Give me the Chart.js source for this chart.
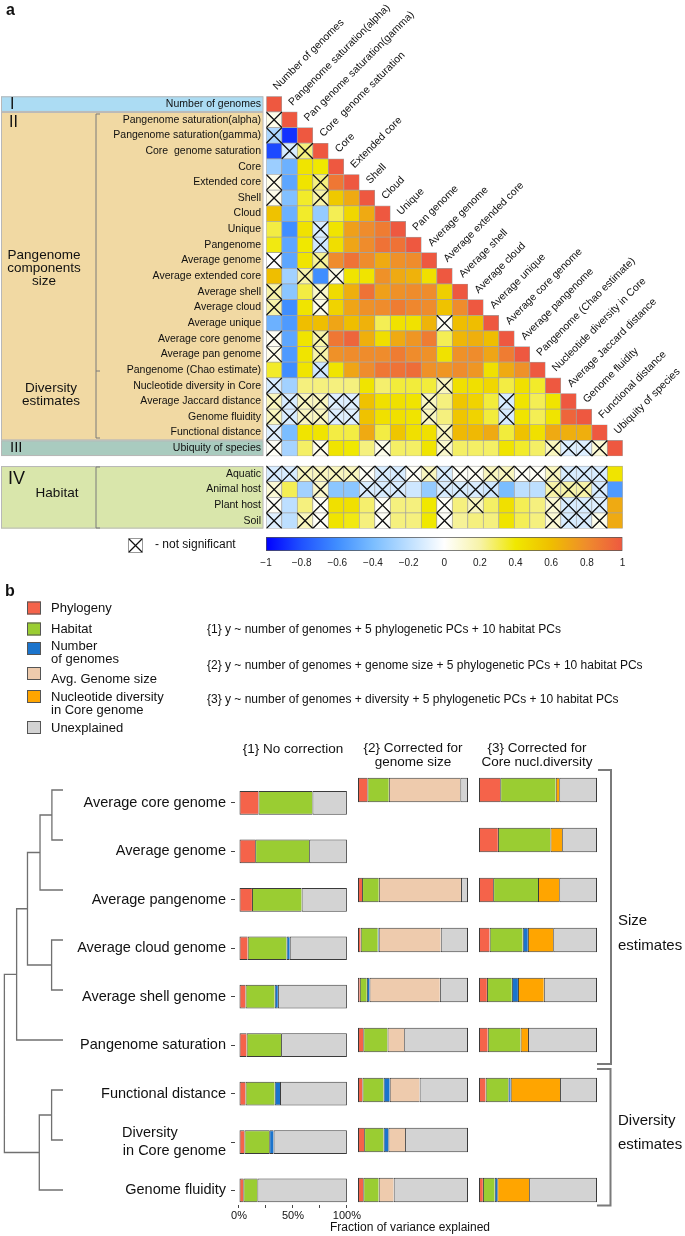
<!DOCTYPE html>
<html>
<head>
<meta charset="utf-8">
<script src="https://cdn.jsdelivr.net/npm/chart.js@4/dist/chart.umd.min.js"></script>
<style>
  html, body { margin: 0; background: #fff; }
  #page { position: relative; width: 685px; height: 1236px; overflow: hidden; }
  #page canvas { position: absolute; }
</style>
</head>
<body>
<div id="page">
  <canvas id="heat" width="685" height="1236" style="left:0;top:0"></canvas>
  <canvas id="cbar" width="390" height="35" style="left:250px;top:537px"></canvas>
  <canvas id="dendro" width="70" height="440" style="left:0;top:765px"></canvas>
  <canvas id="col1" width="362" height="466" style="left:0;top:765px"></canvas>
  <canvas id="col2" width="110" height="440" style="left:358px;top:765px"></canvas>
  <canvas id="col3" width="118" height="440" style="left:479px;top:765px"></canvas>
</div>
<script>
Chart.defaults.font.family = '"Liberation Sans", Arial, Helvetica, sans-serif';
Chart.defaults.color = '#111';
Chart.defaults.animation = false;
Chart.defaults.responsive = false;
Chart.defaults.events = [];
Chart.defaults.plugins.legend.display = false;
Chart.defaults.plugins.tooltip.enabled = false;

// ---------- panel a data ----------
var rowLabels = ['Number of genomes', 'Pangenome saturation(alpha)', 'Pangenome saturation(gamma)',
  'Core  genome saturation', 'Core', 'Extended core', 'Shell', 'Cloud', 'Unique', 'Pangenome',
  'Average genome', 'Average extended core', 'Average shell', 'Average cloud', 'Average unique',
  'Average core genome', 'Average pan genome', 'Pangenome (Chao estimate)', 'Nucleotide diversity in Core',
  'Average Jaccard distance', 'Genome fluidity', 'Functional distance', 'Ubiquity of species'];
var colLabels = ['Number of genomes', 'Pangenome saturation(alpha)', 'Pan genome saturation(gamma)',
  'Core  genome saturation', 'Core', 'Extended core', 'Shell', 'Cloud', 'Unique', 'Pan genome',
  'Average genome', 'Average extended core', 'Average shell', 'Average cloud', 'Average unique',
  'Average core genome', 'Average pangenome', 'Pangenome (Chao estimate)', 'Nucleotide diversity in Core',
  'Average Jaccard distance', 'Genome fluidity', 'Functional distance', 'Ubiquity of species'];
var habitatLabels = ['Aquatic', 'Animal host', 'Plant host', 'Soil'];

// lower triangle of the correlation matrix, row by row
var corr = [
  [1],
  [0.05, 1],
  [-0.25, -0.88, 1],
  [-0.82, -0.12, 0.25, 1],
  [-0.3, -0.45, 0.42, 0.4, 1],
  [0.05, -0.5, 0.42, 0.25, 0.88, 1],
  [0.05, -0.38, 0.35, 0.2, 0.55, 0.68, 1],
  [0.58, -0.45, 0.35, -0.32, 0.3, 0.48, 0.68, 1],
  [0.32, -0.6, 0.43, -0.12, 0.42, 0.72, 0.8, 0.86, 1],
  [0.38, -0.5, 0.4, -0.15, 0.45, 0.7, 0.8, 0.9, 0.9, 1],
  [0.0, -0.5, 0.42, 0.22, 0.8, 0.9, 0.8, 0.68, 0.78, 0.8, 1],
  [0.6, -0.28, 0.2, -0.6, 0.05, 0.42, 0.42, 0.78, 0.68, 0.65, 0.44, 1],
  [0.2, -0.35, 0.32, 0.12, 0.46, 0.66, 0.9, 0.72, 0.78, 0.8, 0.8, 0.52, 1],
  [0.2, -0.6, 0.42, 0.05, 0.5, 0.7, 0.78, 0.8, 0.86, 0.82, 0.8, 0.58, 0.8, 1],
  [-0.45, -0.55, 0.6, 0.6, 0.7, 0.6, 0.65, 0.3, 0.43, 0.43, 0.64, 0.03, 0.6, 0.6, 1],
  [0.03, -0.5, 0.42, 0.2, 0.88, 0.95, 0.66, 0.45, 0.68, 0.76, 0.86, 0.3, 0.63, 0.66, 0.6, 1],
  [0.05, -0.55, 0.42, 0.2, 0.78, 0.8, 0.8, 0.8, 0.86, 0.8, 0.78, 0.43, 0.78, 0.8, 0.7, 0.86, 1],
  [0.35, -0.6, 0.42, -0.15, 0.42, 0.7, 0.8, 0.88, 0.9, 0.92, 0.78, 0.76, 0.8, 0.76, 0.44, 0.68, 0.78, 1],
  [-0.12, -0.28, 0.25, 0.25, 0.25, 0.25, 0.42, 0.27, 0.33, 0.33, 0.33, 0.15, 0.44, 0.44, 0.48, 0.32, 0.44, 0.35, 1],
  [0.15, -0.12, 0.15, 0.15, -0.1, -0.1, 0.58, 0.44, 0.44, 0.42, 0.15, 0.25, 0.56, 0.5, 0.33, -0.12, 0.42, 0.3, 0.42, 1],
  [0.15, -0.12, 0.15, 0.15, -0.1, -0.1, 0.58, 0.44, 0.44, 0.42, 0.15, 0.25, 0.56, 0.5, 0.33, -0.12, 0.42, 0.3, 0.42, 0.95, 1],
  [-0.1, -0.4, 0.42, 0.42, 0.32, 0.32, 0.68, 0.32, 0.56, 0.44, 0.44, 0.15, 0.62, 0.62, 0.68, 0.33, 0.58, 0.44, 0.68, 0.66, 0.66, 1],
  [0.02, -0.27, 0.28, 0.05, 0.42, 0.4, 0.25, 0.05, 0.28, 0.28, 0.42, 0.12, 0.28, 0.28, 0.28, 0.42, 0.35, 0.28, 0.15, -0.1, -0.1, 0.1, 1]
];
// 'x' = not significant
var notSig = [
  '.', 'x.', 'x..', '.xx.', '.....', 'x..x..', 'x..x...', '........', '...x.....', '...x......',
  'x..x.......', '..x.x.......', 'x..x.........', 'x..x..........', '...........x...',
  'x..x............', 'x..x.............', '...x..............', 'x..........x.......',
  'xxxxxx....x....x....', 'xxxxxx....x....x.....', 'x..........x..........', 'x..x...x...x......xxxx.'
];
var habitatCorr = [
  [-0.12, -0.12, 0.15, 0.15, 0.15, 0.15, 0.02, -0.12, -0.12, 0.02, 0.15, -0.12, 0.02, 0.02, 0.15, 0.15, 0.02, 0.02, 0.15, -0.12, -0.12, -0.12, 0.42],
  [0.1, 0.3, -0.28, 0.12, -0.35, -0.35, -0.12, -0.12, -0.12, -0.15, -0.32, -0.12, -0.12, -0.12, -0.15, -0.4, -0.2, -0.2, 0.2, 0.2, 0.2, -0.12, -0.55],
  [0.02, -0.2, 0.25, 0.02, 0.44, 0.44, 0.27, 0.02, 0.25, 0.25, 0.4, 0.02, 0.25, 0.15, 0.28, 0.44, 0.3, 0.25, 0.1, -0.12, -0.12, -0.1, 0.68],
  [-0.1, -0.2, 0.15, 0.02, 0.42, 0.38, 0.25, 0.02, 0.25, 0.25, 0.4, 0.02, 0.22, 0.25, 0.25, 0.42, 0.3, 0.25, 0.1, -0.12, -0.12, 0.05, 0.68]
];
var habitatNotSig = [
  'xxxxxxxxxxxxxxxxxxxxxx.',
  'x..x..xxx..xxxx...xxxx.',
  'x..x...x...x.x....xxxx.',
  'x.xx...x...x......xxxx.'
];
var cbarRange = [-1, 1];

// ---------- panel b data ----------
var traits = ['Average core genome', 'Average genome', 'Average pangenome', 'Average cloud genome',
  'Average shell genome', 'Pangenome saturation', 'Functional distance',
  ['Diversity' + '\u00a0'.repeat(12), 'in Core genome'], 'Genome fluidity'];

// {1} no correction
var phylo1 = [0.18, 0.15, 0.12, 0.08, 0.06, 0.07, 0.06, 0.05, 0.04];
var hab1   = [0.50, 0.50, 0.46, 0.36, 0.27, 0.32, 0.27, 0.23, 0.13];
var ngen1  = [0, 0, 0, 0.03, 0.03, 0, 0.05, 0.04, 0];
var unex1  = [0.32, 0.35, 0.42, 0.53, 0.64, 0.61, 0.62, 0.68, 0.83];
// {2} corrected for genome size
var phylo2 = [0.085, null, 0.037, 0.024, 0.016, 0.048, 0.04, 0.056, 0.048];
var hab2   = [0.195, null, 0.152, 0.156, 0.064, 0.22, 0.192, 0.176, 0.14];
var ngen2  = [0, null, 0, 0.008, 0.024, 0, 0.056, 0.044, 0];
var gsize2 = [0.65, null, 0.747, 0.564, 0.64, 0.152, 0.272, 0.152, 0.136];
var unex2  = [0.07, null, 0.064, 0.248, 0.256, 0.58, 0.44, 0.572, 0.676];
// {3} corrected for core nucleotide diversity
var phylo3 = [0.18, 0.16, 0.12, 0.09, 0.067, 0.074, 0.056, null, 0.033];
var hab3   = [0.47, 0.445, 0.38, 0.28, 0.211, 0.278, 0.193, null, 0.1];
var ngen3  = [0, 0, 0, 0.044, 0.052, 0, 0.019, null, 0.022];
var div3   = [0.03, 0.1, 0.18, 0.215, 0.219, 0.063, 0.419, null, 0.27];
var unex3  = [0.32, 0.295, 0.32, 0.371, 0.451, 0.585, 0.313, null, 0.575];

// dendrogram merges: [childA, childB, height]; ids >= 9 are earlier merges
var dendroMerges = [[0, 1, 0.185], [9, 2, 0.383], [3, 4, 0.19], [10, 11, 0.592],
  [12, 5, 0.773], [6, 7, 0.19], [14, 8, 0.395], [13, 15, 0.977]];

// ---------- colours ----------
var cmap = [[-1, '#0000ff'], [-0.8, '#2052ff'], [-0.6, '#408eff'], [-0.4, '#7abdff'], [-0.2, '#bddfff'],
  [0, '#ffffff'], [0.2, '#f7f3a8'], [0.4, '#f0e800'], [0.6, '#efbe00'], [0.8, '#ef8c2c'], [1, '#ee5840']];
function hexRgb(c) { return [1, 3, 5].map(function (i) { return parseInt(c.substr(i, 2), 16); }); }
function corrColor(v) {
  for (var k = 1; k < cmap.length; k++) {
    if (v <= cmap[k][0]) {
      var t = (v - cmap[k - 1][0]) / (cmap[k][0] - cmap[k - 1][0]);
      var a = hexRgb(cmap[k - 1][1]), b = hexRgb(cmap[k][1]);
      return 'rgb(' + a.map(function (x, i) { return Math.round(x + (b[i] - x) * t); }).join(',') + ')';
    }
  }
  return cmap[cmap.length - 1][1];
}
var segCol = { phylo: '#f5634a', hab: '#9acd32', ngen: '#1b74cc', gsize: '#eecbad', div: '#ffa500', unex: '#d3d3d3' };

// ---------- helpers for plain text ----------
function txt(ctx, s, x, y, size, align, weight) {
  ctx.font = (weight || '') + ' ' + size + 'px "Liberation Sans", Arial, sans-serif';
  ctx.textAlign = align || 'left';
  ctx.textBaseline = 'middle';
  ctx.fillText(s, x, y);
}
function path(ctx, pts) {
  ctx.beginPath();
  pts.forEach(function (p, i) { if (i) ctx.lineTo(p[0], p[1]); else ctx.moveTo(p[0], p[1]); });
  ctx.stroke();
}

var HAB_Y0 = 23.64; // habitat rows sit a little below the triangle

var decor = {
  id: 'decor',
  afterDraw: function (chart) {
    var ctx = chart.ctx, xs = chart.scales.x, ys = chart.scales.y;
    ctx.save();
    // bands on the left
    var bands = [
      [ys.getPixelForValue(-0.5), ys.getPixelForValue(0.5), '#acdcf3'],
      [ys.getPixelForValue(0.5), ys.getPixelForValue(21.5), '#f1d9a3'],
      [ys.getPixelForValue(21.5), ys.getPixelForValue(22.5), '#a9cbbf'],
      [ys.getPixelForValue(HAB_Y0 - 0.5), ys.getPixelForValue(HAB_Y0 + 3.5), '#d9e6ab']
    ];
    ctx.strokeStyle = '#b8b8b8'; ctx.lineWidth = 1;
    bands.forEach(function (b) {
      ctx.fillStyle = b[2];
      ctx.fillRect(1, b[0], 262, b[1] - b[0]);
      ctx.strokeRect(1.5, b[0] + 0.5, 261.5, b[1] - b[0] - 1);
    });
    ctx.fillStyle = '#111';
    txt(ctx, 'a', 6, 11, 16, 'left', 'bold');
    txt(ctx, 'I', 10, ys.getPixelForValue(0), 16);
    txt(ctx, 'II', 9, 123, 16);
    txt(ctx, 'III', 10, ys.getPixelForValue(22), 15);
    txt(ctx, 'IV', 8, 479, 18);
    ['Pangenome', 'components', 'size'].forEach(function (s, i) { txt(ctx, s, 44, 255 + i * 13.3, 13.5, 'center'); });
    ['Diversity', 'estimates'].forEach(function (s, i) { txt(ctx, s, 51, 388 + i * 13.7, 13.5, 'center'); });
    txt(ctx, 'Habitat', 57, 493, 13.5, 'center');
    // brackets
    ctx.strokeStyle = '#7a7a7a'; ctx.lineWidth = 1;
    path(ctx, [[100, 114], [96, 114], [96, 438], [100, 438]]);
    path(ctx, [[96, 371], [100, 371]]);
    path(ctx, [[100, 467], [96, 467], [96, 528], [100, 528]]);
    // row labels
    ctx.fillStyle = '#111';
    rowLabels.forEach(function (s, i) { txt(ctx, s, 261, ys.getPixelForValue(i), 10.5, 'right'); });
    habitatLabels.forEach(function (s, k) { txt(ctx, s, 261, ys.getPixelForValue(HAB_Y0 + k), 10.5, 'right'); });
    // rotated column labels along the diagonal
    colLabels.forEach(function (s, j) {
      ctx.save();
      ctx.translate(xs.getPixelForValue(j) + 1, ys.getPixelForValue(j - 0.5) - 8);
      ctx.rotate(-Math.PI / 4);
      txt(ctx, s, 0, 0, 10.5);
      ctx.restore();
    });
    // not significant key
    ctx.fillStyle = '#fff'; ctx.strokeStyle = '#999';
    ctx.fillRect(128, 538, 14, 14); ctx.strokeRect(128.5, 538.5, 14, 14);
    ctx.strokeStyle = '#111'; ctx.lineWidth = 1.3;
    path(ctx, [[129, 539], [142, 552]]); path(ctx, [[142, 539], [129, 552]]);
    ctx.fillStyle = '#111';
    txt(ctx, '- not significant', 155, 545, 12);

    // ---------- panel b texts ----------
    txt(ctx, 'b', 5, 592, 16, 'left', 'bold');
    var leg = [
      [segCol.phylo, 601.5, ['Phylogeny'], 608],
      [segCol.hab, 622.5, ['Habitat'], 629],
      [segCol.ngen, 642, ['Number', 'of genomes'], 646.5],
      [segCol.gsize, 667, ['Avg. Genome size'], 679],
      [segCol.div, 690, ['Nucleotide diversity', 'in Core genome'], 697],
      [segCol.unex, 721, ['Unexplained'], 728]
    ];
    leg.forEach(function (l) {
      ctx.fillStyle = l[0]; ctx.fillRect(27, l[1], 14, 13);
      ctx.strokeStyle = '#555'; ctx.lineWidth = 1; ctx.strokeRect(27.5, l[1] + 0.5, 13, 12);
      ctx.fillStyle = '#111';
      l[2].forEach(function (s, i) { txt(ctx, s, 51, l[3] + i * 13, 13); });
    });
    txt(ctx, '{1} y ~ number of genomes + 5 phylogenetic PCs + 10 habitat PCs', 207, 630, 12);
    txt(ctx, '{2} y ~ number of genomes + genome size + 5 phylogenetic PCs + 10 habitat PCs', 207, 666, 12);
    txt(ctx, '{3} y ~ number of genomes + diversity + 5 phylogenetic PCs + 10 habitat PCs', 207, 700, 12);
    txt(ctx, '{1} No correction', 293, 749, 13.5, 'center');
    txt(ctx, '{2} Corrected for', 413, 748, 13.5, 'center');
    txt(ctx, 'genome size', 413, 762, 13.5, 'center');
    txt(ctx, '{3} Corrected for', 537, 748, 13.5, 'center');
    txt(ctx, 'Core nucl.diversity', 537, 762, 13.5, 'center');
    txt(ctx, 'Fraction of variance explained', 410, 1228, 12, 'center');
    ctx.strokeStyle = '#7a7a7a'; ctx.lineWidth = 2;
    path(ctx, [[598, 770], [611, 770], [611, 1064], [597, 1064]]);
    path(ctx, [[597, 1069], [610.5, 1069], [610.5, 1205.5], [597, 1205.5]]);
    ctx.fillStyle = '#111';
    txt(ctx, 'Size', 618, 921, 15);
    txt(ctx, 'estimates', 618, 946, 15);
    txt(ctx, 'Diversity', 618, 1121, 15);
    txt(ctx, 'estimates', 618, 1145, 15);
    ctx.restore();
  }
};

// ---------- heatmap ----------
var cellData = [], crossData = [];
corr.forEach(function (row, i) {
  row.forEach(function (v, j) {
    cellData.push({ x: [j - 0.5, j + 0.5], y: i, v: v });
    if (notSig[i][j] === 'x') crossData.push({ x: j, y: i });
  });
});
habitatCorr.forEach(function (row, k) {
  row.forEach(function (v, j) {
    cellData.push({ x: [j - 0.5, j + 0.5], y: HAB_Y0 + k, v: v });
    if (habitatNotSig[k][j] === 'x') crossData.push({ x: j, y: HAB_Y0 + k });
  });
});

new Chart(document.getElementById('heat'), {
  type: 'bar',
  data: {
    datasets: [{
      type: 'bar',
      data: cellData,
      backgroundColor: function (c) { return c.raw ? corrColor(c.raw.v) : '#fff'; },
      borderColor: '#a3a3a3',
      borderWidth: 0.7,
      borderSkipped: false,
      categoryPercentage: 1,
      barPercentage: 1,
      order: 2
    }, {
      type: 'scatter',
      data: crossData,
      pointStyle: 'crossRot',
      pointRadius: 11,
      borderColor: '#111',
      borderWidth: 1.3,
      order: 1
    }]
  },
  options: {
    indexAxis: 'y',
    layout: { padding: { left: 266.3, right: 685 - 622.8, top: 96.3, bottom: 1236 - 528.6 } },
    scales: {
      x: { type: 'linear', min: -0.5, max: 22.5, display: false, offset: false },
      y: { type: 'linear', min: -0.5, max: 27.14, reverse: true, display: false, offset: false, ticks: { stepSize: 1, includeBounds: false } }
    }
  },
  plugins: [decor]
});

// ---------- colour bar ----------
new Chart(document.getElementById('cbar'), {
  type: 'bar',
  data: {
    labels: [''],
    datasets: [{
      data: [cbarRange],
      backgroundColor: function (c) {
        var area = c.chart.chartArea;
        if (!area) return '#fff';
        var g = c.chart.ctx.createLinearGradient(area.left, 0, area.right, 0);
        cmap.forEach(function (s) { g.addColorStop((s[0] + 1) / 2, s[1]); });
        return g;
      },
      borderColor: '#555',
      borderWidth: 1,
      borderSkipped: false,
      categoryPercentage: 1,
      barPercentage: 1
    }]
  },
  options: {
    indexAxis: 'y',
    layout: { padding: { left: 16, right: 17.5 } },
    scales: {
      x: {
        type: 'linear', min: cbarRange[0], max: cbarRange[1],
        grid: { display: false, drawTicks: false }, border: { display: false },
        ticks: {
          stepSize: 0.2, padding: 6, font: { size: 10 }, color: '#222',
          callback: function (v) { var r = Math.round(v * 10) / 10; return r === 0 ? '0' : (r < 0 ? '\u2212' : '') + Math.abs(r); }
        },
        afterFit: function (s) { s.height = 21; }
      },
      y: { display: false }
    }
  }
});

// ---------- dendrogram ----------
var nodeY = traits.map(function (t, i) { return i; });
var nodeH = traits.map(function () { return 0; });
var dendroPts = [];
dendroMerges.forEach(function (m) {
  var a = m[0], b = m[1], h = m[2];
  dendroPts.push({ x: nodeH[a], y: nodeY[a] }, { x: h, y: nodeY[a] }, { x: h, y: nodeY[b] }, { x: nodeH[b], y: nodeY[b] }, { x: null, y: null });
  nodeY.push((nodeY[a] + nodeY[b]) / 2);
  nodeH.push(h);
});
new Chart(document.getElementById('dendro'), {
  type: 'scatter',
  data: { datasets: [{ data: dendroPts, showLine: true, spanGaps: false, pointRadius: 0, borderColor: '#707070', borderWidth: 1.3 }] },
  options: {
    layout: { padding: { left: 3, right: 7 } },
    scales: {
      x: { type: 'linear', min: 0, max: 1, reverse: true, display: false },
      y: { type: 'linear', min: -0.5, max: 8.3, reverse: true, display: false }
    }
  }
});

// ---------- stacked bars ----------
function stackSets(parts) {
  return parts.map(function (p, k) {
    return {
      data: p[0].map(function (v, i) { return { x: v, y: i }; }),
      backgroundColor: p[1],
      borderColor: '#3a3a3a',
      borderWidth: { top: 1, bottom: 1, left: 1, right: k === parts.length - 1 ? 1 : 0 },
      borderSkipped: false,
      barPercentage: 0.49,
      categoryPercentage: 1
    };
  });
}
var pctLabel = { 0: '0%', 0.5: '50%', 1: '100%' };

new Chart(document.getElementById('col1'), {
  type: 'bar',
  data: { datasets: stackSets([[phylo1, segCol.phylo], [hab1, segCol.hab], [ngen1, segCol.ngen], [unex1, segCol.unex]]) },
  options: {
    indexAxis: 'y',
    layout: { padding: { right: 14 } },
    scales: {
      x: {
        type: 'linear', stacked: true, min: -0.037, max: 1, offset: false,
        border: { display: false },
        grid: { drawOnChartArea: false, tickLength: 3, tickColor: '#444' },
        ticks: {
          stepSize: 0.25, includeBounds: false, autoSkip: false, maxRotation: 0, padding: 1,
          font: { size: 11 }, color: '#111',
          callback: function (v) { return pctLabel[v] !== undefined ? pctLabel[v] : ''; }
        },
        afterFit: function (s) { s.height = 26; }
      },
      y: {
        type: 'linear', stacked: true, min: -0.5, max: 8.3, reverse: true, offset: false,
        border: { display: false },
        grid: { drawOnChartArea: false, tickLength: 4, tickColor: '#444', offset: false },
        ticks: {
          stepSize: 1, includeBounds: false, autoSkip: false, padding: 5,
          font: { size: 14.5 }, color: '#111',
          callback: function (v) { return traits[v]; }
        },
        afterFit: function (s) { s.width = 235; }
      }
    }
  }
});

function plainCol(id, parts) {
  new Chart(document.getElementById(id), {
    type: 'bar',
    data: { datasets: stackSets(parts) },
    options: {
      indexAxis: 'y',
      scales: {
        x: { type: 'linear', stacked: true, min: 0, max: 1, display: false, offset: false },
        y: { type: 'linear', stacked: true, min: -0.5, max: 8.3, reverse: true, display: false, offset: false, ticks: { stepSize: 1, includeBounds: false } }
      }
    }
  });
}
plainCol('col2', [[phylo2, segCol.phylo], [hab2, segCol.hab], [ngen2, segCol.ngen], [gsize2, segCol.gsize], [unex2, segCol.unex]]);
plainCol('col3', [[phylo3, segCol.phylo], [hab3, segCol.hab], [ngen3, segCol.ngen], [div3, segCol.div], [unex3, segCol.unex]]);
</script>
</body>
</html>
